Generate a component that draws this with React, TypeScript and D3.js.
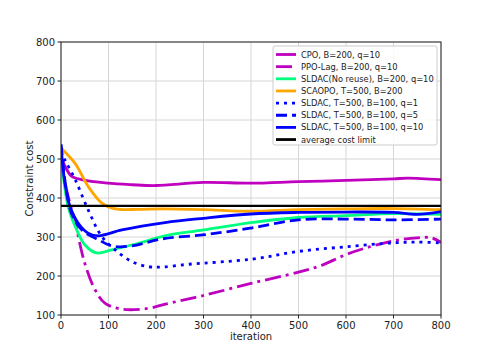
import React from "react";
import * as d3 from "d3";

// [iteration, constraint cost]
const cpo = [[0, 505], [10, 478], [22, 456], [43, 447], [98, 438], [150, 434], [200, 432], [300, 440], [400, 438], [500, 442], [600, 445], [700, 449], [730, 451], [800, 447]];
const ppoLag = [[0, 505], [12, 420], [30, 336], [50, 233], [72, 164], [93, 130], [128, 115], [184, 117], [220, 128], [300, 150], [400, 181], [500, 210], [550, 228], [600, 255], [650, 275], [700, 290], [750, 298], [780, 298], [800, 286]];
const sldacNoReuse = [[0, 506], [15, 378], [30, 327], [50, 280], [75, 259], [107, 267], [163, 284], [219, 303], [300, 318], [400, 337], [500, 350], [600, 355], [700, 360], [800, 358]];
const scaopo = [[0, 528], [30, 488], [57, 430], [86, 387], [114, 372], [163, 371], [212, 372], [300, 370], [400, 366], [500, 370], [600, 372], [700, 373], [800, 370]];
const sldacQ1 = [[0, 520], [8, 498], [30, 447], [57, 370], [86, 301], [114, 267], [149, 237], [184, 224], [212, 223], [268, 230], [400, 243], [500, 263], [600, 275], [700, 285], [750, 287], [800, 285]];
const sldacQ5 = [[0, 538], [10, 430], [22, 361], [44, 318], [79, 293], [107, 277], [149, 277], [212, 295], [303, 306], [400, 323], [500, 344], [600, 346], [700, 344], [800, 346]];
const sldacQ10 = [[0, 535], [8, 440], [19, 378], [36, 336], [57, 310], [79, 303], [128, 318], [219, 337], [300, 348], [400, 359], [500, 363], [600, 364], [700, 363], [750, 358], [800, 365]];
const costLimit = 380;

const labels = [
  "CPO, B=200, q=10",
  "PPO-Lag, B=200, q=10",
  "SLDAC(No reuse), B=200, q=10",
  "SCAOPO, T=500, B=200",
  "SLDAC, T=500, B=100, q=1",
  "SLDAC, T=500, B=100, q=5",
  "SLDAC, T=500, B=100, q=10",
  "average cost limit",
];
const xTicks = [0, 100, 200, 300, 400, 500, 600, 700, 800];
const yTicks = [100, 200, 300, 400, 500, 600, 700, 800];

const series = [
  { data: cpo, color: "#bf00bf", dash: "" },
  { data: ppoLag, color: "#bf00bf", dash: "16,5,3,5" },
  { data: sldacNoReuse, color: "#00ff7f", dash: "" },
  { data: scaopo, color: "#ffa500", dash: "" },
  { data: sldacQ1, color: "#0000ff", dash: "3,5" },
  { data: sldacQ5, color: "#0000ff", dash: "11,5" },
  { data: sldacQ10, color: "#0000ff", dash: "" },
];

const App = () => {
  const width = 491;
  const height = 354;
  const left = 61, right = 441, top = 42, bottom = 315;
  const font = "DejaVu Sans, sans-serif";

  const x = d3.scaleLinear().domain([0, 800]).range([left, right]);
  const y = d3.scaleLinear().domain([100, 800]).range([bottom, top]);
  const line = d3.line<number[]>()
    .x(d => x(d[0]))
    .y(d => y(d[1]))
    .curve(d3.curveCatmullRom.alpha(0.5));

  const legendStyles = [...series.map(s => ({ color: s.color, dash: s.dash })), { color: "#000", dash: "" }];

  return (
    <svg width={width} height={height} style={{ position: "absolute", left: 0, top: 0, background: "#fff" }} fontFamily={font}>
      <defs>
        <clipPath id="plot">
          <rect x={left} y={top} width={right - left} height={bottom - top} />
        </clipPath>
      </defs>
      {/* grid */}
      {xTicks.map(t => (
        <line key={"gx" + t} x1={x(t)} x2={x(t)} y1={top} y2={bottom} stroke="#d6d6d6" strokeWidth={1} />
      ))}
      {yTicks.map(t => (
        <line key={"gy" + t} x1={left} x2={right} y1={y(t)} y2={y(t)} stroke="#d6d6d6" strokeWidth={1} />
      ))}
      <g clipPath="url(#plot)">
        {series.map((s, i) => (
          <path key={i} d={line(s.data) || ""} fill="none" stroke={s.color} strokeWidth={2.8} strokeDasharray={s.dash} />
        ))}
        <line x1={left} x2={right} y1={y(costLimit)} y2={y(costLimit)} stroke="#000" strokeWidth={2.2} />
      </g>
      {/* spines */}
      <rect x={left} y={top} width={right - left} height={bottom - top} fill="none" stroke="#222" strokeWidth={1} />
      {/* ticks */}
      {xTicks.map(t => (
        <g key={"tx" + t}>
          <line x1={x(t)} x2={x(t)} y1={bottom} y2={bottom + 3.5} stroke="#222" />
          <text x={x(t)} y={bottom + 13.5} fontSize={10} textAnchor="middle" fill="#222">{t}</text>
        </g>
      ))}
      {yTicks.map(t => (
        <g key={"ty" + t}>
          <line x1={left - 3.5} x2={left} y1={y(t)} y2={y(t)} stroke="#222" />
          <text x={left - 6} y={y(t) + 3.5} fontSize={10} textAnchor="end" fill="#222">{t}</text>
        </g>
      ))}
      <text x={(left + right) / 2} y={340} fontSize={10} textAnchor="middle" fill="#222">iteration</text>
      <text transform={`translate(33,${(top + bottom) / 2}) rotate(-90)`} fontSize={10} textAnchor="middle" fill="#222">Constraint cost</text>
      {/* legend */}
      <rect x={273} y={46} width={164} height={99} rx={2} fill="#fff" fillOpacity={0.85} stroke="#ccc" />
      {labels.map((lab, i) => {
        const ly = 54.5 + i * 12.15;
        const st = legendStyles[i];
        return (
          <g key={lab}>
            <line x1={276} x2={296} y1={ly} y2={ly} stroke={st.color} strokeWidth={2.8} strokeDasharray={st.dash} />
            <text x={301} y={ly + 3} fontSize={8.3} fill="#222">{lab}</text>
          </g>
        );
      })}
    </svg>
  );
};

export default App;
